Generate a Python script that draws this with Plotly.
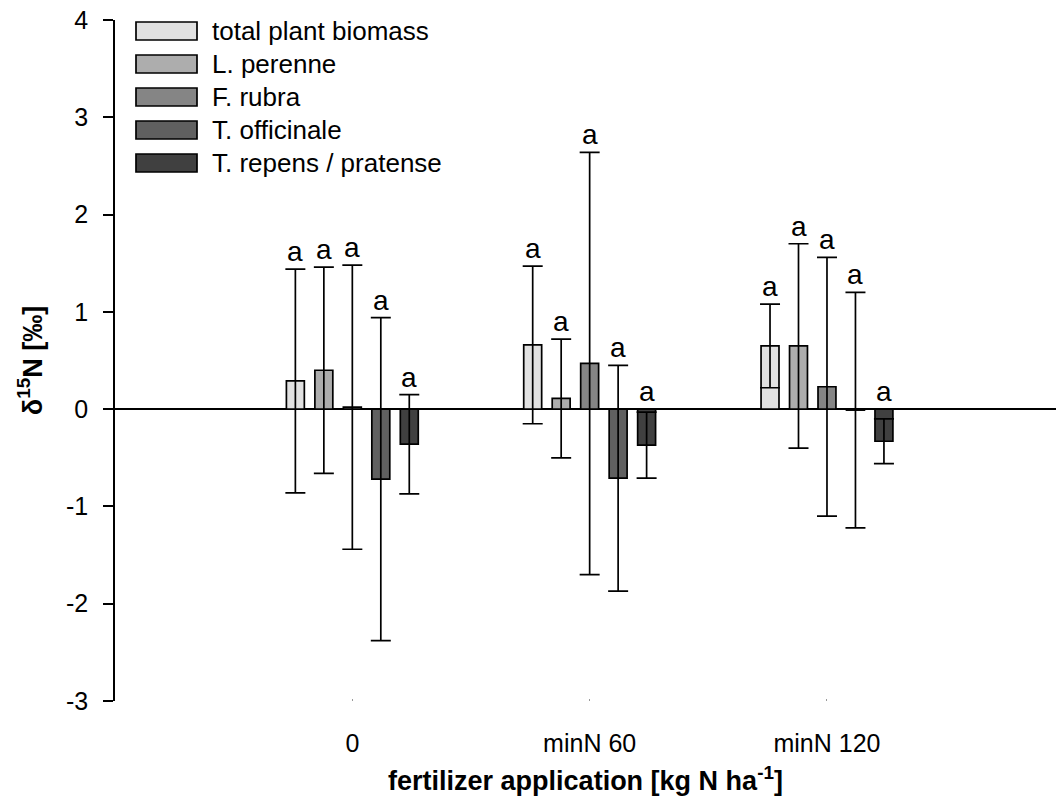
import plotly.graph_objects as go

# Fertilizer treatments and plant fractions
categories = ["0", "minN 60", "minN 120"]
series_names = ["total plant biomass", "L. perenne", "F. rubra", "T. officinale", "T. repens / pratense"]
series_colors = ["#e1e1e1", "#adadad", "#858585", "#606060", "#404040"]

# mean delta-15N values (per mille) per treatment
total_biomass = [0.29, 0.66, 0.65]
l_perenne = [0.40, 0.11, 0.65]
f_rubra = [0.02, 0.47, 0.23]
t_officinale = [-0.72, -0.71, -0.01]
t_repens = [-0.36, -0.37, -0.33]

# standard deviations
total_biomass_sd = [1.15, 0.81, 0.43]
l_perenne_sd = [1.06, 0.61, 1.05]
f_rubra_sd = [1.46, 2.17, 1.33]
t_officinale_sd = [1.66, 1.16, 1.21]
t_repens_sd = [0.51, 0.34, 0.23]

# significance letters
letters = ["a", "a", "a"]

# y axis ticks
y_ticks = [-3, -2, -1, 0, 1, 2, 3, 4]
y_tick_labels = ["-3", "-2", "-1", "0", "1", "2", "3", "4"]

means = [total_biomass, l_perenne, f_rubra, t_officinale, t_repens]
sds = [total_biomass_sd, l_perenne_sd, f_rubra_sd, t_officinale_sd, t_repens_sd]

FONT = "Arial, Liberation Sans, sans-serif"
W, H = 1056, 796
ML, MR, MT, MB = 115, 0, 20, 95

xpos = list(range(len(categories)))
n = len(series_names)
bargap = 0.4
slot = (1 - bargap) / n

fig = go.Figure()
annotations = []
for j, (name, col, m, s) in enumerate(zip(series_names, series_colors, means, sds)):
    fig.add_trace(go.Bar(
        x=xpos, y=m, name=name,
        marker=dict(color=col, line=dict(color="black", width=1.7)),
        error_y=dict(type="data", array=s, visible=True, color="black", thickness=1.7, width=10),
        showlegend=False,
    ))
    for i in xpos:
        xc = i - (1 - bargap) / 2 + slot * (j + 0.5)
        annotations.append(dict(
            x=xc, y=max(m[i] + s[i], 0), xref="x", yref="y", text=letters[i],
            showarrow=False, yanchor="bottom", yshift=0,
            font=dict(family=FONT, size=28, color="black"),
        ))

# legend drawn as wide swatches with labels
pw, ph = W - ML - MR, H - MT - MB
def px_to_paper(px, py):
    return (px - ML) / pw, 1 - (py - MT) / ph

shapes = []
for k, (name, col) in enumerate(zip(series_names, series_colors)):
    cy = 31 + 33 * k
    x0, y0 = px_to_paper(136, cy - 9)
    x1, y1 = px_to_paper(197, cy + 9)
    shapes.append(dict(type="rect", xref="paper", yref="paper", x0=x0, y0=y1, x1=x1, y1=y0,
                       fillcolor=col, line=dict(color="black", width=1.7), layer="above"))
    tx, ty = px_to_paper(210, cy)
    annotations.append(dict(x=tx, y=ty, xref="paper", yref="paper", text=name, showarrow=False,
                            xanchor="left", yanchor="middle",
                            font=dict(family=FONT, size=26, color="black")))

fig.update_layout(
    width=W, height=H,
    margin=dict(l=ML, r=MR, t=MT, b=MB, autoexpand=False),
    plot_bgcolor="white", paper_bgcolor="white",
    barmode="group", bargap=bargap, bargroupgap=0.37,
    font=dict(family=FONT, size=25, color="black"),
    shapes=shapes, annotations=annotations,
    xaxis=dict(
        range=[-1, 2.965], tickvals=xpos, ticktext=categories,
        showline=False, showgrid=False, zeroline=False, automargin=False,
        ticks="inside", ticklen=2, tickcolor="#999999", tickwidth=1,
        ticklabelstandoff=25,
        tickfont=dict(family=FONT, size=25),
        title=dict(text="<b>fertilizer application [kg N ha<sup>-1</sup>]</b>",
                   font=dict(family=FONT, size=27), standoff=15),
    ),
    yaxis=dict(
        range=[-3, 4], tickvals=y_ticks, ticktext=y_tick_labels,
        showline=True, linecolor="black", linewidth=1.5, automargin=False,
        ticks="outside", ticklen=10, tickwidth=1.5, tickcolor="black",
        ticklabelstandoff=10,
        showgrid=False,
        zeroline=True, zerolinecolor="black", zerolinewidth=1.5,
        tickfont=dict(family=FONT, size=25),
        title=dict(text="<b>δ<sup>15</sup>N [‰]</b>", font=dict(family=FONT, size=27), standoff=16),
    ),
)

fig.write_html("out.html")
